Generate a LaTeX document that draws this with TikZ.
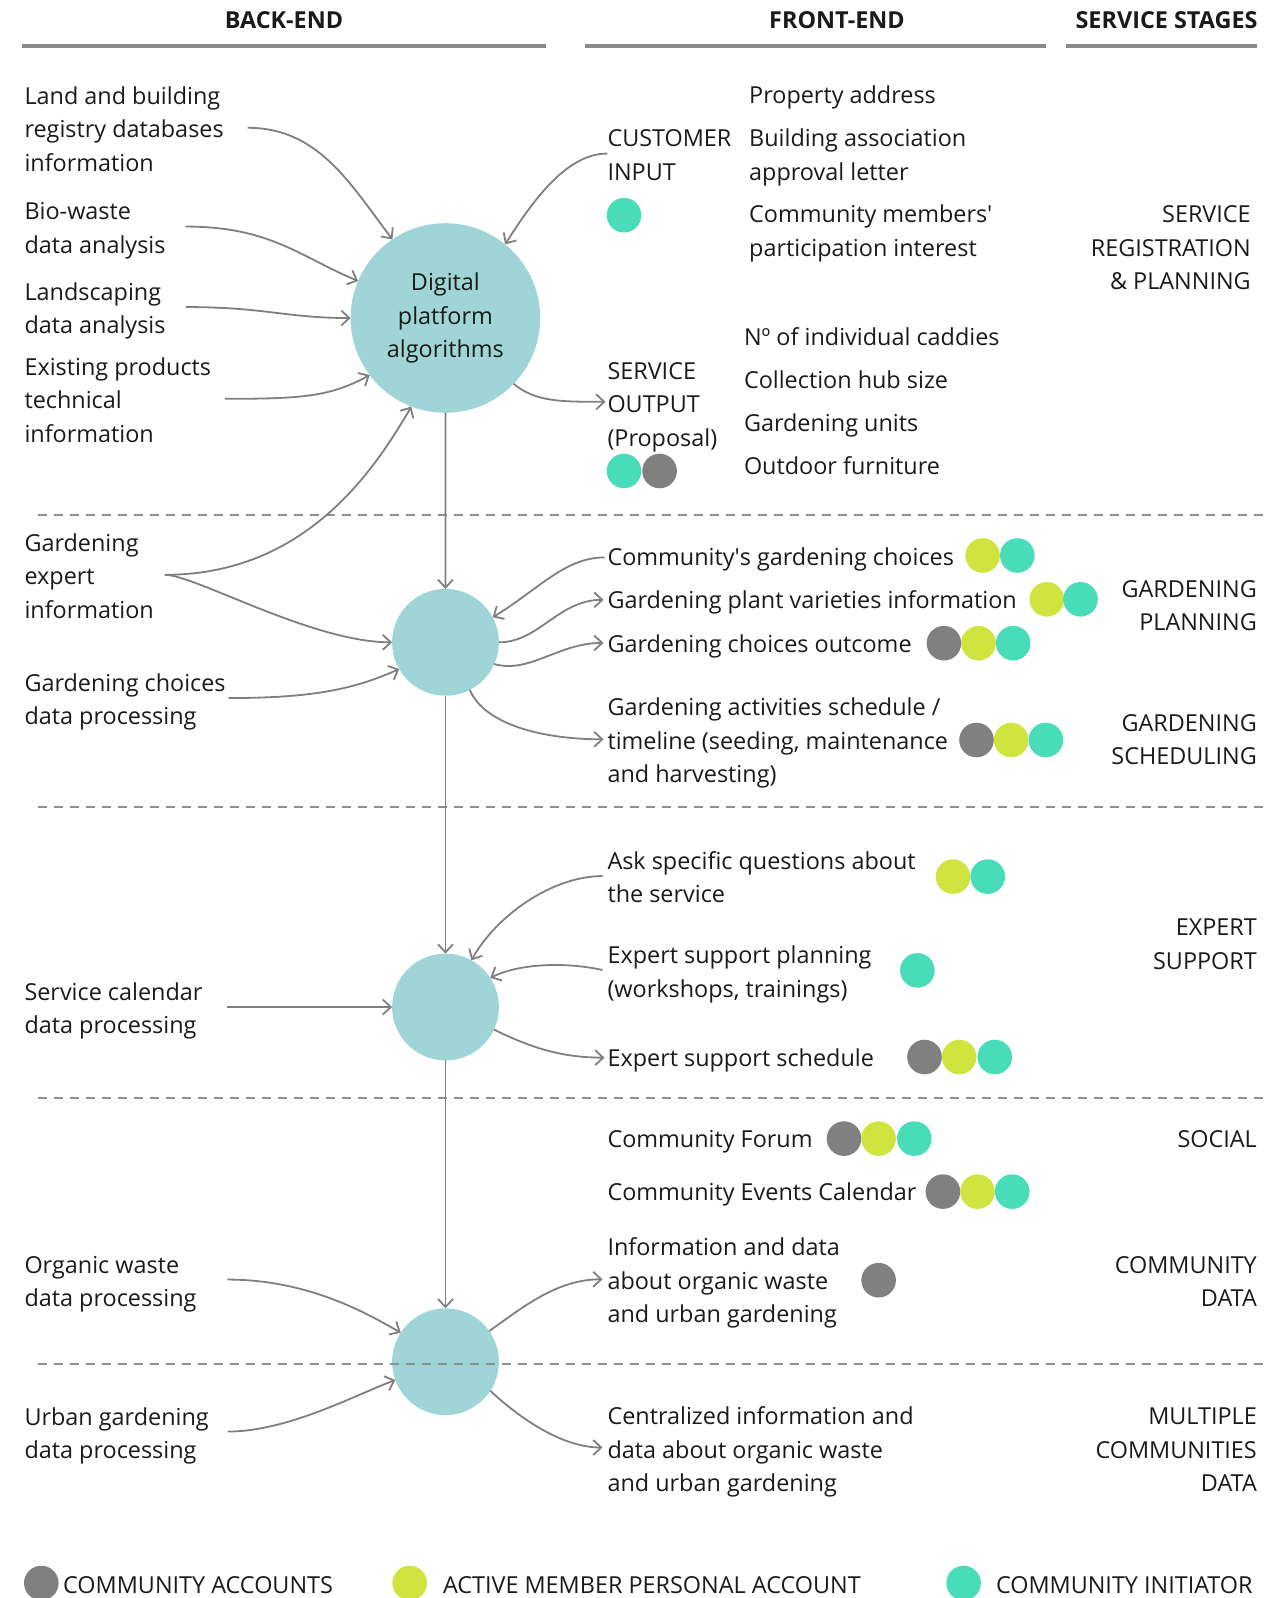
\documentclass[tikz,border=0pt]{standalone}
\usepackage{fontspec}
\setmainfont{Open Sans}
\usetikzlibrary{arrows.meta}
\definecolor{txtc}{HTML}{1A1A1A}
\definecolor{linec}{HTML}{7F7F7F}
\definecolor{rulec}{HTML}{8A8A8A}
\definecolor{dashc}{HTML}{8F8F8F}
\definecolor{hubc}{HTML}{9FD5D6}
\definecolor{dgray}{HTML}{808080}
\definecolor{dlime}{HTML}{CFE43F}
\definecolor{dteal}{HTML}{48DCB8}
\newcommand\fsz{\fontsize{23.4}{33.5}\selectfont}
\newcommand\lt[1]{\begin{tabular}[t]{@{}l@{}}#1\end{tabular}}
\newcommand\rt[1]{\begin{tabular}[t]{@{}r@{}}#1\end{tabular}}
\begin{document}
\begin{tikzpicture}[x=1pt,y=-1pt,
  every node/.style={inner sep=0pt, outer sep=0pt, text=txtc},
  tl/.style={anchor=base west, font=\fsz},
  tr/.style={anchor=base east, font=\fsz},
  hd/.style={anchor=base, font=\fsz\bfseries},
  hub/.style={circle, fill=hubc, minimum size=106.8pt},
  dot/.style={circle, fill=#1, minimum size=34.6pt},
  conn/.style={draw=linec, line width=1.8pt, -{Straight Barb[length=8pt,width=15pt]}},
  hline/.style={draw=rulec, line width=3.5pt},
  dline/.style={draw=dashc, line width=1.8pt, dash pattern=on 9pt off 7pt},
]
\useasboundingbox (0,0) rectangle (1270,1598);

% headers
\node[hd] (hb) at (284,28.3) {BACK-END};
\node[hd] (hf) at (837,28.3) {FRONT-END};
\node[hd, anchor=base east] (hs) at (1257.5,28.3) {SERVICE STAGES};
\draw[hline] (21.6,46) -- (546,46);
\draw[hline] (585,46) -- (1045.5,46);
\draw[hline] (1066,46) -- (1256.6,46);

% hubs
\node[hub, minimum size=189.6pt, align=center, font=\fsz] (main) at (445.4,318) {Digital\\platform\\algorithms};
\node[hub] (c2) at (445.5,642.3) {};
\node[hub] (c3) at (445.5,1007) {};
\node[hub] (c4) at (445.5,1361.7) {};

% dashed separators
\draw[dline] (37.7,514.8) -- (1264,514.8);
\draw[dline] (37.7,807.3) -- (1264,807.3);
\draw[dline] (37.7,1097.8) -- (1264,1097.8);
\draw[dline] (37.7,1363.8) -- (1264,1363.8);

% left texts
\node[tl] (lnd) at (24.5,104) {\lt{Land and building\\registry databases\\information}};
\node[tl] (bio) at (24.5,219.5) {\lt{Bio-waste\\data analysis}};
\node[tl] (lsc) at (24.5,300) {\lt{Landscaping\\data analysis}};
\node[tl] (exi) at (24.5,375) {\lt{Existing products\\technical\\information}};
\node[tl] (gex) at (24.5,551) {\lt{Gardening\\expert\\information}};
\node[tl] (gcd) at (24.5,691) {\lt{Gardening choices\\data processing}};
\node[tl] (svc) at (24.5,1000) {\lt{Service calendar\\data processing}};
\node[tl] (org) at (24.5,1273) {\lt{Organic waste\\data processing}};
\node[tl] (urb) at (24.5,1425) {\lt{Urban gardening\\data processing}};

% front-end texts
\node[tl] (cust) at (607.5,146.5) {\lt{CUSTOMER\\INPUT}};
\node[tl] (prop) at (749.2,103) {Property address};
\node[tl] (bldg) at (749.2,146.5) {\lt{Building association\\approval letter}};
\node[tl] (cmem) at (749.2,222.7) {\lt{Community members\textquotesingle\\participation interest}};
\node[tl] (sout) at (607.5,379) {\lt{SERVICE\\OUTPUT\\(Proposal)}};
\node[tl] (ncad) at (744,345) {Nº of individual caddies};
\node[tl] (chub) at (744,388.2) {Collection hub size};
\node[tl] (gunit) at (744,431.7) {Gardening units};
\node[tl] (outf) at (744,474.7) {Outdoor furniture};
\node[tl] (cgc) at (607.5,565) {Community\textquotesingle s gardening choices};
\node[tl] (gpv) at (607.5,608.5) {Gardening plant varieties information};
\node[tl] (gco) at (607.5,652) {Gardening choices outcome};
\node[tl] (gas) at (607.5,715.5) {\lt{Gardening activities schedule /\\timeline (seeding, maintenance\\and harvesting)}};
\node[tl] (ask) at (607.5,869) {\lt{Ask specific questions about\\the service}};
\node[tl] (esp) at (607.5,963.5) {\lt{Expert support planning\\(workshops, trainings)}};
\node[tl] (ess) at (607.5,1066.2) {Expert support schedule};
\node[tl] (cfor) at (607.5,1147.5) {Community Forum};
\node[tl] (cev) at (607.5,1200.5) {Community Events Calendar};
\node[tl] (info) at (607.5,1255.5) {\lt{Information and data\\about organic waste\\and urban gardening}};
\node[tl] (cent) at (607.5,1424.7) {\lt{Centralized information and\\data about organic waste\\and urban gardening}};

% service stages
\node[tr] (sreg) at (1250.7,222.7) {\rt{SERVICE\\REGISTRATION\\\& PLANNING}};
\node[tr] (gpl) at (1256.8,597.3) {\rt{GARDENING\\PLANNING}};
\node[tr] (gsch) at (1256.8,731) {\rt{GARDENING\\SCHEDULING}};
\node[tr] (exs) at (1256.8,935.8) {\rt{EXPERT\\SUPPORT}};
\node[tr] (soc) at (1256.8,1147.5) {SOCIAL};
\node[tr] (cdat) at (1256.8,1273) {\rt{COMMUNITY\\DATA}};
\node[tr] (mcd) at (1256.8,1424.7) {\rt{MULTIPLE\\COMMUNITIES\\DATA}};

% dots
\node[dot=dteal] (d1) at (624,215.2) {};
\node[dot=dteal] (d2) at (624,471) {};
\node[dot=dgray] (d3) at (659.6,471) {};
\node[dot=dlime] (d4) at (982.6,555.5) {};
\node[dot=dteal] (d5) at (1017.3,555.5) {};
\node[dot=dlime] (d6) at (1046.8,599.3) {};
\node[dot=dteal] (d7) at (1080.5,599.3) {};
\node[dot=dgray] (d8) at (943.9,643.2) {};
\node[dot=dlime] (d9) at (978.5,643.2) {};
\node[dot=dteal] (d10) at (1013.2,643.2) {};
\node[dot=dgray] (d11) at (976.5,740) {};
\node[dot=dlime] (d12) at (1011.1,740) {};
\node[dot=dteal] (d13) at (1045.8,740) {};
\node[dot=dlime] (d14) at (953,876.6) {};
\node[dot=dteal] (d15) at (987.7,876.6) {};
\node[dot=dteal] (d16) at (917.4,970.4) {};
\node[dot=dgray] (d17) at (924.5,1057) {};
\node[dot=dlime] (d18) at (959.2,1057) {};
\node[dot=dteal] (d19) at (994.8,1057) {};
\node[dot=dgray] (d20) at (844,1138.6) {};
\node[dot=dlime] (d21) at (878.6,1138.6) {};
\node[dot=dteal] (d22) at (914.3,1138.6) {};
\node[dot=dgray] (d23) at (942.9,1191.6) {};
\node[dot=dlime] (d24) at (977.5,1191.6) {};
\node[dot=dteal] (d25) at (1012.2,1191.6) {};
\node[dot=dgray] (d26) at (878.6,1280.2) {};

% legend
\node[dot=dgray] (lg1) at (41.3,1583) {};
\node[tl] (lt1) at (63.2,1593) {COMMUNITY ACCOUNTS};
\node[dot=dlime] (lg2) at (409.7,1583) {};
\node[tl] (lt2) at (443,1593) {ACTIVE MEMBER PERSONAL ACCOUNT};
\node[dot=dteal] (lg3) at (963.6,1583) {};
\node[tl] (lt3) at (996,1593) {COMMUNITY INITIATOR};

% connector end coordinates near texts
\coordinate (sA) at ([xshift=24pt,yshift=3pt]lnd.east);
\coordinate (sB) at ([xshift=20pt,yshift=3pt]bio.east);
\coordinate (sC) at ([xshift=20pt,yshift=3pt]lsc.east);
\coordinate (sD) at ([xshift=14pt,yshift=3pt]exi.east);
\coordinate (sE) at ([xshift=11pt,yshift=3pt]gex.east);
\coordinate (sG) at ([xshift=3pt,yshift=3pt]gcd.east);
\coordinate (sR) at ([xshift=25pt,yshift=3pt]svc.east);
\coordinate (sS) at ([xshift=31pt,yshift=3.5pt]org.east);
\coordinate (sT) at ([xshift=19pt,yshift=3.5pt]urb.east);
\coordinate (sI) at ([yshift=3pt]cust.west);
\coordinate (tJ) at ([xshift=-2pt,yshift=4pt]sout.west);
\coordinate (sK) at ([xshift=-3pt,yshift=1.5pt]cgc.west);
\coordinate (tL) at ([xshift=-4pt,yshift=2.5pt]gpv.west);
\coordinate (tM) at ([xshift=-4pt,yshift=3pt]gco.west);
\coordinate (tN) at ([xshift=-4pt,yshift=3pt]gas.west);
\coordinate (sO) at ([xshift=-5pt,yshift=3pt]ask.west);
\coordinate (sP) at ([xshift=-5pt,yshift=3.5pt]esp.west);
\coordinate (tQ) at ([xshift=-3pt,yshift=2.5pt]ess.west);
\coordinate (tU) at ([xshift=-5pt,yshift=3pt]info.west);
\coordinate (tV) at ([xshift=-5pt,yshift=4pt]cent.west);

% connectors
\draw[conn] (sA) .. controls +(70,0) and +(-43,-57) .. (main.124);
\draw[conn] (sB) .. controls +(85,0) and +(-58,-24) .. (main.157);
\draw[conn] (sC) .. controls +(80,0) and +(-65,0) .. (main.180);
\draw[conn] (sD) .. controls +(75,0) and +(-40,22) .. (main.217);
\draw[conn] (sE) .. controls +(140,0) and +(-38,65) .. (main.249);
\draw[conn] (sE) .. controls +(30,0) and +(-80,0) .. (c2.180);
\draw[conn] (sG) .. controls +(85,0) and +(-45,20) .. (c2.210);
\draw[conn] (main.south) -- (c2.north);
\draw[conn] (sI) .. controls +(-40,0) and +(30,-47) .. (main.51);
\draw[conn] (main.316) .. controls +(22,18) and +(-45,0) .. (tJ);
\draw[conn] (sK) .. controls +(-40,0) and +(45,-27) .. (c2.28);
\draw[conn] (c2.east) .. controls +(40,0) and +(-45,0) .. (tL);
\draw[conn] (c2.336) .. controls +(35,10) and +(-45,0) .. (tM);
\draw[conn] (c2.297) .. controls +(15,35) and +(-60,0) .. (tN);
\draw[conn] (c2.south) -- (c3.north);
\draw[conn] (sO) .. controls +(-50,0) and +(25,-45) .. (c3.61);
\draw[conn] (sP) .. controls +(-35,-8) and +(30,-15) .. (c3.33);
\draw[conn] (c3.335) .. controls +(35,17) and +(-45,0) .. (tQ);
\draw[conn] (sR) -- (sR -| c3.west);
\draw[conn] (c3.south) -- (c4.north);
\draw[conn] (sS) .. controls +(80,0) and +(-35,-20) .. (c4.147);
\draw[conn] (sT) .. controls +(60,0) and +(-40,15) .. (c4.200);
\draw[conn] (c4.35) .. controls +(35,-25) and +(-45,0) .. (tU);
\draw[conn] (c4.327) .. controls +(30,28) and +(-40,0) .. (tV);
\end{tikzpicture}
\end{document}
